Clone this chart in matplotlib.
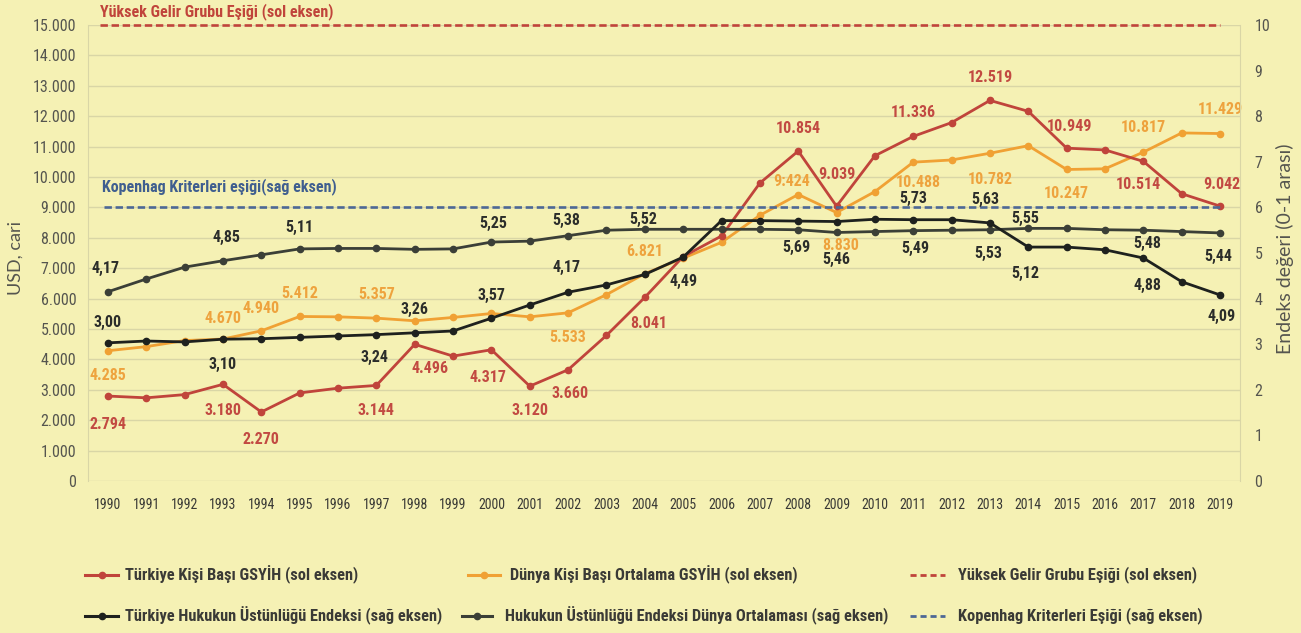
import matplotlib
matplotlib.use("Agg")
import matplotlib.pyplot as plt
from matplotlib.lines import Line2D
from matplotlib.ticker import FuncFormatter
from matplotlib import font_manager as fm

# ---------------- data ----------------
years = list(range(1990, 2020))

turkey_gdp = [2794, 2736, 2842, 3180, 2270, 2897, 3053, 3144, 4496, 4108,
              4317, 3120, 3660, 4790, 6041, 7384, 8060, 9800, 10854, 9039,
              10700, 11336, 11790, 12519, 12160, 10949, 10890, 10514, 9450, 9042]

world_gdp = [4285, 4420, 4620, 4670, 4940, 5412, 5400, 5357, 5270, 5380,
             5510, 5400, 5533, 6130, 6821, 7330, 7850, 8740, 9424, 8830,
             9520, 10488, 10560, 10782, 11030, 10247, 10270, 10817, 11450, 11429]

turkey_rol = [3.03, 3.07, 3.05, 3.11, 3.12, 3.15, 3.18, 3.21, 3.25, 3.29,
              3.57, 3.86, 4.14, 4.30, 4.53, 4.91, 5.71, 5.71, 5.70, 5.69,
              5.74, 5.73, 5.73, 5.66, 5.13, 5.13, 5.07, 4.89, 4.37, 4.08]

world_rol = [4.15, 4.43, 4.69, 4.83, 4.96, 5.09, 5.10, 5.10, 5.08, 5.09,
             5.24, 5.26, 5.38, 5.50, 5.52, 5.52, 5.52, 5.52, 5.51, 5.45,
             5.47, 5.49, 5.50, 5.51, 5.54, 5.54, 5.51, 5.50, 5.47, 5.44]

high_income_threshold = 15000   # left axis
copenhagen_threshold = 6        # right axis

left_ticks = list(range(0, 15001, 1000))
right_ticks = list(range(0, 11))

# data label texts (as printed on the chart)
turkey_gdp_labels = {1990: "2.794", 1993: "3.180", 1994: "2.270", 1997: "3.144",
                     1998: "4.496", 2000: "4.317", 2001: "3.120", 2002: "3.660",
                     2004: "8.041", 2008: "10.854", 2009: "9.039", 2011: "11.336",
                     2013: "12.519", 2015: "10.949", 2017: "10.514", 2019: "9.042"}
world_gdp_labels = {1990: "4.285", 1993: "4.670", 1994: "4.940", 1995: "5.412",
                    1997: "5.357", 2002: "5.533", 2004: "6.821", 2008: "9:424",
                    2009: "8.830", 2011: "10.488", 2013: "10.782", 2015: "10.247",
                    2017: "10.817", 2019: "11.429"}
turkey_rol_labels = {1990: "3,00", 1993: "3,10", 1997: "3,24", 1998: "3,26",
                     2000: "3,57", 2002: "4,17", 2005: "4,49", 2008: "5,69",
                     2011: "5,73", 2013: "5,63", 2014: "5,12", 2017: "4,88",
                     2019: "4,09"}
world_rol_labels = {1990: "4,17", 1993: "4,85", 1995: "5,11", 2000: "5,25",
                    2002: "5,38", 2004: "5,52", 2009: "5,46", 2011: "5,49",
                    2013: "5,53", 2014: "5,55", 2017: "5,48", 2019: "5,44"}

# label offsets (pixels: dx, dy)
turkey_gdp_off = {1990: (0, -28), 1993: (0, -26), 1994: (0, -28), 1997: (0, -25),
                  1998: (15, -24), 2000: (-3, -28), 2001: (0, -24), 2002: (2, -24),
                  2004: (4, -26), 2008: (0, 23), 2009: (0, 32), 2011: (0, 24),
                  2013: (0, 23), 2015: (3, 22), 2017: (-5, -23), 2019: (2, 22)}
world_gdp_off = {1990: (0, -25), 1993: (0, 21), 1994: (0, 22), 1995: (0, 23),
                 1997: (0, 24), 2002: (0, -25), 2004: (0, 22), 2008: (-7, 13),
                 2009: (4, -33), 2011: (5, -20), 2013: (0, -26), 2015: (0, -24),
                 2017: (0, 25), 2019: (0, 24)}
turkey_rol_off = {1990: (0, 20), 1993: (0, -25), 1997: (-2, -23), 1998: (0, 23),
                  2000: (0, 23), 2002: (-2, 25), 2005: (0, -24), 2008: (-2, -26),
                  2011: (0, 21), 2013: (-5, 23), 2014: (-3, -26), 2017: (4, -27),
                  2019: (2, -22)}
world_rol_off = {1990: (-2, 23), 1993: (3, 23), 1995: (0, 21), 2000: (2, 19),
                 2002: (-2, 15), 2004: (-2, 10), 2009: (0, -27), 2011: (2, -18),
                 2013: (-2, -24), 2014: (-3, 10), 2017: (4, -13), 2019: (-2, -24)}

# ---------------- style ----------------
W, H = 1301, 633
BG = "#f5f1b4"
GRID = "#d9d6a6"
RED = "#c0443b"
ORANGE = "#f0a134"
BLACK_TR = "#1e211e"
BLACK_W = "#3b3f37"
BLUE = "#4d6895"
TICK = "#55554f"

installed = {f.name for f in fm.fontManager.ttflist}
narrow_candidates = ["Roboto Condensed", "Liberation Sans Narrow", "Open Sans Condensed",
                     "DejaVu Sans Condensed", "Noto Sans Condensed"]
NARROW = [f for f in narrow_candidates if f in installed] + ["Liberation Sans", "DejaVu Sans"]
REG = ["Lato", "DejaVu Sans"]
HAVE_NARROW = NARROW[0] not in ("Liberation Sans",)
SCALE = 1.0 if HAVE_NARROW else 0.9

plt.rcParams["font.family"] = NARROW

fig = plt.figure(figsize=(W / 100, H / 100), dpi=100, facecolor=BG)
ax = fig.add_axes([88 / W, 1 - 481 / H, (1240 - 88) / W, (481 - 25) / H])
ax.set_facecolor(BG)
ax2 = ax.twinx()

ax.set_xlim(1989.48, 2019.52)
ax.set_ylim(0, 15000)
ax2.set_ylim(0, 10)

ax.set_yticks(left_ticks)
ax.yaxis.set_major_formatter(FuncFormatter(lambda v, p: f"{int(v):,}".replace(",", ".")))
ax2.set_yticks(right_ticks)
ax.set_xticks(years)
ax.set_xticklabels([str(y) for y in years])

ax.grid(axis="y", color=GRID, lw=1.0)
ax.set_axisbelow(True)
for a in (ax, ax2):
    for s in a.spines.values():
        s.set_visible(False)
ax.spines["left"].set_visible(True)
ax.spines["left"].set_color(GRID)
ax2.spines["right"].set_visible(True)
ax2.spines["right"].set_color(GRID)

ax.tick_params(axis="y", length=0, pad=8.5, labelsize=11.5 * SCALE, labelcolor=TICK)
ax.tick_params(axis="x", length=0, pad=12, labelsize=10 * SCALE, labelcolor="#3a3a36")
ax2.tick_params(axis="y", length=0, pad=10.5, labelsize=11.5 * SCALE, labelcolor=TICK)

ax.set_ylabel("USD, cari", fontsize=13, color=TICK, family=REG)
ax.yaxis.set_label_coords(-0.0556, 0.49)
ax2.set_ylabel("Endeks değeri (0-1 arası)", fontsize=14, color=TICK, family=REG)
ax2.yaxis.set_label_coords(1.031, 0.51)

# threshold lines
ax.plot([1989.8, 2019], [high_income_threshold] * 2, color=RED, lw=1.9,
        dashes=(2.8, 1.4), clip_on=False, zorder=3)
ax2.plot([1989.9, 2019], [copenhagen_threshold] * 2, color=BLUE, lw=1.9,
         dashes=(2.8, 1.4), zorder=1)

# series
LW, MS = 2.0, 4.5
ax.plot(years, world_gdp, color=ORANGE, lw=LW, marker="o", ms=MS, zorder=4)
ax.plot(years, turkey_gdp, color=RED, lw=LW, marker="o", ms=MS, zorder=5)
ax2.plot(years, world_rol, color=BLACK_W, lw=LW, marker="o", ms=MS, zorder=3)
ax2.plot(years, turkey_rol, color=BLACK_TR, lw=LW, marker="o", ms=MS, zorder=4)

LABEL_FS = 11.5 * SCALE
LABEL_W = "bold" if not HAVE_NARROW else "semibold"


def put_labels(a, values, labels, offs, color):
    for yr, txt in labels.items():
        i = years.index(yr)
        dx, dy = offs[yr]
        a.annotate(txt, (yr, values[i]), xytext=(dx, dy), textcoords="offset pixels",
                   ha="center", va="center", fontsize=LABEL_FS, fontweight=LABEL_W,
                   color=color, zorder=8)


put_labels(ax, turkey_gdp, turkey_gdp_labels, turkey_gdp_off, "#c24a42")
put_labels(ax, world_gdp, world_gdp_labels, world_gdp_off, "#eea33e")
put_labels(ax2, turkey_rol, turkey_rol_labels, turkey_rol_off, "#2b2d2a")
put_labels(ax2, world_rol, world_rol_labels, world_rol_off, "#2b2d2a")

# threshold captions
fig.text(100 / W, 1 - 12 / H, "Yüksek Gelir Grubu Eşiği (sol eksen)", color=RED,
         fontsize=11.5 * SCALE, fontweight=LABEL_W, ha="left", va="center")
fig.text(102 / W, 1 - 187 / H, "Kopenhag Kriterleri eşiği(sağ eksen)", color="#3f5e8f",
         fontsize=11.5 * SCALE, fontweight=LABEL_W, ha="left", va="center")


# legend (manual layout)
def legend_item(x0, x1, xt, y, color, text, dashed=False):
    yf = 1 - y / H
    if dashed:
        fig.add_artist(Line2D([x0 / W, x1 / W], [yf, yf], transform=fig.transFigure,
                              color=color, lw=2.0, dashes=(2.2, 1.4)))
    else:
        fig.add_artist(Line2D([x0 / W, x1 / W], [yf, yf], transform=fig.transFigure,
                              color=color, lw=2.2))
        fig.add_artist(Line2D([(x0 + x1) / 2 / W], [yf], transform=fig.transFigure,
                              color=color, marker="o", ms=4.5))
    fig.text(xt / W, yf, text, color="#3a3a36", fontsize=11.8 * SCALE, fontweight=LABEL_W,
             ha="left", va="center")


legend_item(85, 118, 125, 575, RED, "Türkiye Kişi Başı GSYİH (sol eksen)")
legend_item(468, 500, 510, 575, ORANGE, "Dünya Kişi Başı Ortalama GSYİH (sol eksen)")
legend_item(910, 945, 958, 575, RED, "Yüksek Gelir Grubu Eşiği (sol eksen)", dashed=True)
legend_item(85, 118, 125, 616, BLACK_TR, "Türkiye Hukukun Üstünlüğü Endeksi (sağ eksen)")
legend_item(462, 492, 505, 616, BLACK_W, "Hukukun Üstünlüğü Endeksi Dünya Ortalaması (sağ eksen)")
legend_item(910, 945, 958, 616, BLUE, "Kopenhag Kriterleri Eşiği (sağ eksen)", dashed=True)

fig.savefig("out.png", dpi=100, facecolor=BG)
